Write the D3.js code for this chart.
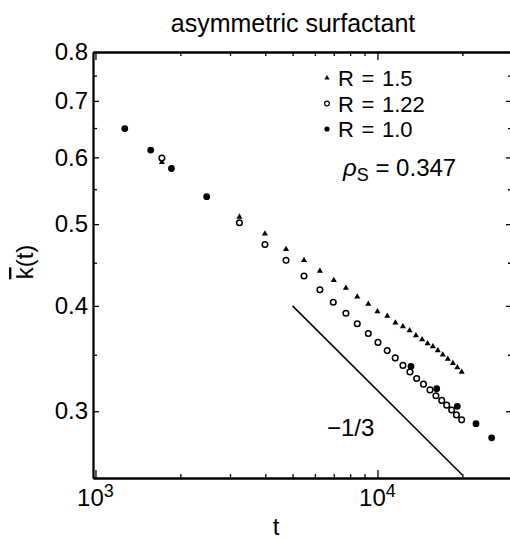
<!DOCTYPE html>
<html>
<head>
<meta charset="utf-8">
<script src="https://cdn.jsdelivr.net/npm/d3@7"></script>
<style>
  body { margin: 0; background: #fff; }
  text { font-family: "Liberation Sans", Arial, sans-serif; fill: #000; }
  .axis path, .axis line { stroke: #000; }
</style>
</head>
<body>
<script>
const width  = 510;
const height = 539;
const frame  = {left: 93, right: 512, top: 52, bottom: 478};

// R = 1.0 (filled dots)
const tR10 = [1270, 1570, 1860, 2480, 13150, 16220, 19190, 22360, 25410];
const kR10 = [0.649, 0.612, 0.582, 0.539, 0.339, 0.319, 0.304, 0.290, 0.279];

// R = 1.22 (open circles)
const tR122 = [1720, 3240, 3990, 4740, 5490, 6250, 6970, 7730, 8480, 9280, 10040, 10830,
               11560, 12310, 13040, 13770, 14560, 15360, 16120, 16900, 17600, 18330, 19060, 19890];
const kR122 = [0.599, 0.502, 0.473, 0.453, 0.434, 0.418, 0.404, 0.392, 0.381, 0.371, 0.362, 0.354,
               0.347, 0.340, 0.334, 0.328, 0.323, 0.318, 0.313, 0.309, 0.305, 0.301, 0.297, 0.293];

// R = 1.5 (triangles)
const tR15 = [1720, 3240, 3990, 4740, 5490, 6250, 7000, 7730, 8480, 9280, 10000, 10830, 11580,
              12310, 13000, 13690, 14400, 15060, 15720, 16370, 17050, 17760, 18510, 19200, 19890];
const kR15 = [0.592, 0.510, 0.487, 0.467, 0.453, 0.440, 0.429, 0.420, 0.410, 0.402, 0.394, 0.389, 0.382,
              0.378, 0.374, 0.369, 0.365, 0.361, 0.358, 0.354, 0.350, 0.346, 0.342, 0.338, 0.334];

// slope -1/3 guide
const tGuide = [5000, 20000];
const kGuide = [0.400, 0.252];

const xMajor = [1e3, 1e4];
const xMinor = [2e3, 3e3, 4e3, 5e3, 6e3, 7e3, 8e3, 9e3, 2e4];
const yMajor = [0.3, 0.4, 0.5, 0.6, 0.7, 0.8];
const yMinor = [0.35, 0.45, 0.55, 0.65, 0.75];

const legendLabels = ["R = 1.5", "R = 1.22", "R = 1.0"];

const svg = d3.select("body").append("svg")
  .attr("width", width)
  .attr("height", height);

const x = d3.scaleLog().domain([980, 30000]).range([frame.left, frame.right]);
const y = d3.scaleLog().domain([0.25, 0.8]).range([frame.bottom, frame.top]);

function axisGroup(gen, tx, ty) {
  const g = svg.append("g")
    .attr("class", "axis")
    .attr("transform", `translate(${tx},${ty})`)
    .call(gen);
  g.select(".domain").attr("stroke-width", 1.8);
  g.selectAll(".tick line").attr("stroke-width", 1.3);
  return g;
}

// bottom
axisGroup(d3.axisBottom(x).tickValues(xMajor).tickSize(-8).tickSizeOuter(0).tickFormat(""), 0, frame.bottom);
axisGroup(d3.axisBottom(x).tickValues(xMinor).tickSize(-4).tickSizeOuter(0).tickFormat(""), 0, frame.bottom);
// top
axisGroup(d3.axisTop(x).tickValues(xMajor).tickSize(-8).tickSizeOuter(0).tickFormat(""), 0, frame.top);
axisGroup(d3.axisTop(x).tickValues(xMinor).tickSize(-4).tickSizeOuter(0).tickFormat(""), 0, frame.top);
// left
const yAxisG = axisGroup(d3.axisLeft(y).tickValues(yMajor).tickSize(-6).tickSizeOuter(0)
  .tickPadding(5).tickFormat(d3.format(".1f")), frame.left, 0);
yAxisG.selectAll("text").attr("font-size", 24).attr("font-family", "Liberation Sans, Arial, sans-serif");
axisGroup(d3.axisLeft(y).tickValues(yMinor).tickSize(-4).tickSizeOuter(0).tickFormat(""), frame.left, 0);
// right (mostly off-canvas)
axisGroup(d3.axisRight(y).tickValues(yMajor).tickSize(-6).tickSizeOuter(0).tickFormat(""), frame.right, 0);
axisGroup(d3.axisRight(y).tickValues(yMinor).tickSize(-4).tickSizeOuter(0).tickFormat(""), frame.right, 0);

// x tick labels with superscripts
const xLab = svg.append("g").selectAll("text")
  .data(xMajor)
  .join("text")
  .attr("x", d => x(d))
  .attr("y", frame.bottom + 28)
  .attr("text-anchor", "middle")
  .attr("font-size", 24);
xLab.append("tspan").text("10");
xLab.append("tspan").attr("dy", -9).attr("font-size", 18).text(d => Math.round(Math.log10(d)));

// guide line
svg.append("path")
  .datum(tGuide.map((t, i) => [t, kGuide[i]]))
  .attr("fill", "none")
  .attr("stroke", "#000")
  .attr("stroke-width", 1.5)
  .attr("d", d3.line().x(d => x(d[0])).y(d => y(d[1])));

svg.append("text")
  .attr("x", 327).attr("y", 436)
  .attr("font-size", 24)
  .text("\u22121/3");

const tri = d3.symbol(d3.symbolTriangle, 16);
const triSmall = d3.symbol(d3.symbolTriangle, 12);

// R = 1.5
svg.append("g").selectAll("path")
  .data(tR15.map((t, i) => [t, kR15[i]]))
  .join("path")
  .attr("transform", d => `translate(${x(d[0])},${y(d[1])})`)
  .attr("d", tri)
  .attr("fill", "#000");

// R = 1.22
svg.append("g").selectAll("circle")
  .data(tR122.map((t, i) => [t, kR122[i]]))
  .join("circle")
  .attr("cx", d => x(d[0]))
  .attr("cy", d => y(d[1]))
  .attr("r", 2.8)
  .attr("fill", "#fff")
  .attr("stroke", "#000")
  .attr("stroke-width", 1.5);

// R = 1.0
svg.append("g").selectAll("circle")
  .data(tR10.map((t, i) => [t, kR10[i]]))
  .join("circle")
  .attr("cx", d => x(d[0]))
  .attr("cy", d => y(d[1]))
  .attr("r", 3.4)
  .attr("fill", "#000");

// legend
const legend = svg.append("g").attr("transform", "translate(327,78)");
legendLabels.forEach((lab, i) => {
  const row = legend.append("g").attr("transform", `translate(0,${i * 25.5})`);
  if (i === 0) row.append("path").attr("d", triSmall).attr("fill", "#000");
  if (i === 1) row.append("circle").attr("r", 2.4).attr("fill", "#fff").attr("stroke", "#000").attr("stroke-width", 1.2);
  if (i === 2) row.append("circle").attr("r", 2.6).attr("fill", "#000");
  row.append("text").attr("x", 11).attr("y", 8).attr("font-size", 22)
    .attr("word-spacing", 1.5).text(lab);
});

// rho_S annotation
const rho = svg.append("text").attr("x", 343).attr("y", 176).attr("font-size", 24);
rho.append("tspan").attr("font-style", "italic").text("\u03c1");
rho.append("tspan").attr("dy", 5).attr("font-size", 18).text("S");
rho.append("tspan").attr("dy", -5).text(" = 0.347");

// title
svg.append("text")
  .attr("x", 293).attr("y", 32)
  .attr("text-anchor", "middle")
  .attr("font-size", 25)
  .text("asymmetric surfactant");

// axis titles
svg.append("text")
  .attr("x", 276).attr("y", 535)
  .attr("text-anchor", "middle")
  .attr("font-size", 24)
  .text("t");

const yt = svg.append("text")
  .attr("transform", "translate(33,262) rotate(-90)")
  .attr("text-anchor", "middle")
  .attr("font-size", 24);
yt.append("tspan").attr("text-decoration", "overline").text("k");
yt.append("tspan").text("(t)");
</script>
</body>
</html>
